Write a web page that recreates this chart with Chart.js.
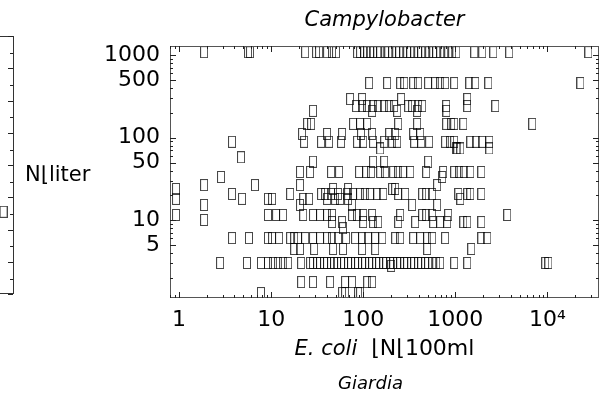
<!DOCTYPE html>
<html><head><meta charset="utf-8">
<script src="https://cdn.jsdelivr.net/npm/chart.js@4"></script>
<style>
html,body{margin:0;padding:0;background:#fff;overflow:hidden}
#wrap{position:relative;width:610px;height:393px;overflow:hidden;background:#fff}
#main{position:absolute;left:0;top:0}
#side{position:absolute;left:-200px;top:0}
</style>
</head><body>
<div id="wrap"><canvas id="side" width="220" height="393"></canvas><canvas id="main" width="610" height="393"></canvas></div>
<script>
// ---- data: Campylobacter (N/liter) levels and E. coli (N/100ml) values at each level ----
const campyLevels = [1090, 460, 294, 242, 211, 147, 111, 89, 74, 58, 51, 38.4, 33.4, 26.7, 23.9, 20.8, 18.1, 15.3, 11.56, 10.06, 9.5, 8.0, 6.08, 4.48, 3.03, 2.79, 1.78, 1.31];
const ecoli1090 = [1.87, 5.61, 5.9, 23.4, 30.8, 33.2, 40.5, 45.9, 50.7, 85.8, 92.4, 102.5, 110.5, 119, 128, 142, 153, 173, 187, 206, 228, 246, 272, 300, 324, 358, 395, 426, 471, 520, 575, 620, 685, 757, 837, 924, 1025, 1607, 1963, 2585, 3855, 27850];
const ecoli460 = [116, 182, 252, 279, 349, 395, 507, 604, 685, 776, 972, 1419, 1648, 2281, 22810];
const ecoli294 = [72, 97.2, 258, 1349];
const ecoli242 = [83.7, 97.2, 110.5, 128, 145.5, 169, 191.5, 217, 308, 340, 395, 437, 796, 1349, 2718];
const ecoli211 = [28.5, 125, 234, 385, 800];
const ecoli147 = [24.6, 27.2, 77.6, 92.4, 110.5, 240, 385, 796, 902, 972, 1221, 6849];
const ecoli111 = [21.7, 40.5, 59, 94.8, 125, 191.5, 222.5, 349, 415.5];
const ecoli89 = [3.76, 22.8, 34.9, 42.6, 57.5, 85.8, 100, 128, 169, 206, 234, 358, 426, 520, 776, 879, 972, 1455, 1690, 1963, 2339];
const ecoli74 = [153, 1025, 1050, 1133, 2339];
const ecoli58 = [4.71];
const ecoli51 = [28.5, 128, 169, 507];
const ecoli38 = [20.6, 26.5, 44.8, 54.7, 90.2, 107.8, 122, 153, 173, 211.6, 240, 272, 324, 483, 738, 972, 1105, 1252, 1455, 1915];
const ecoli33 = [2.86, 720];
const ecoli27 = [1.87, 6.68, 20.6, 635];
const ecoli24 = [0.928, 47.1, 68.5, 206, 222.5];
const ecoli21 = [3.76, 16.1, 34.9, 38.6, 44.8, 53.3, 66.8, 77.6, 92.4, 105, 119, 142, 165, 240, 285.5, 437, 483, 561, 1078, 1349, 1455, 1915];
const ecoli18 = [0.928, 4.83, 9.24, 10.25, 22.3, 25.85, 40.5, 49.5, 56.1, 68.5, 1133];
const ecoli15 = [1.87, 20.6, 75.7, 340, 635];
const ecoli11 = [0.928, 9.24, 11.33, 13.49, 22.3, 28.5, 34.0, 40.5, 45.9, 75.7, 85.8, 100, 125, 252, 437, 483, 561, 837, 3667];
const ecoli10 = [1.87];
const ecoli9 = [45.9, 59, 100, 128, 145.5, 240, 367, 575, 685, 816, 1221, 1349, 1915];
const ecoli8 = [60.4];
const ecoli6 = [3.76, 5.75, 9.24, 10.25, 12.2, 16.1, 17.8, 19.6, 23.4, 28.5, 34.0, 40.5, 45.9, 53.3, 65.2, 81.6, 97.2, 113, 135, 161, 222.5, 252, 349, 415.5, 495, 561, 776, 1915, 2225];
const ecoli4 = [17.8, 20.6, 29.3, 47.1, 60.4, 97.2, 135, 495, 1491];
const ecoli3 = [2.79, 5.47, 7.76, 9.24, 10.5, 11.9, 13.5, 15.3, 21.2, 26.5, 28.5, 31.6, 34.0, 37.6, 40.5, 44.8, 48.3, 52.0, 57.5, 62.0, 68.5, 73.8, 81.6, 87.9, 97.2, 105, 116, 125, 138.4, 149, 165, 177.6, 196.3, 211.6, 234, 252, 279, 300, 332, 358, 395, 426, 471, 507, 561, 620, 685, 972, 1349, 9478, 10250];
const ecoli2_8 = [201];
const ecoli1_8 = [21.2, 28.5, 43.7, 63.5, 75.7, 110.5, 125];
const ecoli1_3 = [7.76, 59, 63.5, 87.9, 92.4];
const ecoliByLevel = [ecoli1090, ecoli460, ecoli294, ecoli242, ecoli211, ecoli147, ecoli111, ecoli89, ecoli74, ecoli58, ecoli51, ecoli38, ecoli33, ecoli27, ecoli24, ecoli21, ecoli18, ecoli15, ecoli11, ecoli10, ecoli9, ecoli8, ecoli6, ecoli4, ecoli3, ecoli2_8, ecoli1_8, ecoli1_3];

const xTickValues = [1, 10, 100, 1000, 10000];
const xTickLabels = ['1', '10', '100', '1000', '10\u2074'];
const yTickValues = [5, 10, 50, 100, 500, 1000];
const yTickLabels = ['5', '10', '50', '100', '500', '1000'];

// neighbouring panel (only its right edge is visible)
const sideX = [0.95];
const sideY = [355];

const FONT = '"DejaVu Sans", Verdana, sans-serif';

// ---- marker: hollow rectangle like the reference glyph ----
function makeMarker(){
  const c = document.createElement('canvas');
  c.width = 8; c.height = 12;
  const g = c.getContext('2d');
  g.strokeStyle = 'rgba(0,0,0,0.72)';
  g.lineWidth = 1;
  g.strokeRect(0.5, 0.5, 7, 11);
  return c;
}
const marker = makeMarker();

const points = [];
campyLevels.forEach((lv, i) => ecoliByLevel[i].forEach(v => points.push({x: v, y: lv})));

function drawLogTicks(ctx, scale, a, horizontal, majorSet){
  const lo = Math.floor(Math.log10(scale.min)), hi = Math.ceil(Math.log10(scale.max));
  ctx.beginPath();
  for (let k = lo; k <= hi; k++) {
    for (let m = 1; m <= 9; m++) {
      const v = m * Math.pow(10, k);
      if (v < scale.min || v > scale.max) continue;
      const p = Math.round(scale.getPixelForValue(v)) + 0.5;
      const L = majorSet(m) ? 6 : 3;
      if (horizontal) {
        ctx.moveTo(p, a.bottom); ctx.lineTo(p, a.bottom - L);
        ctx.moveTo(p, a.top); ctx.lineTo(p, a.top + L);
      } else {
        ctx.moveTo(a.left, p); ctx.lineTo(a.left + L, p);
        ctx.moveTo(a.right, p); ctx.lineTo(a.right - L, p);
      }
    }
  }
  ctx.stroke();
}

const framePlugin = {
  id: 'frameTicks',
  afterDatasetsDraw(chart){
    const {ctx, chartArea: a, scales} = chart;
    ctx.save();
    ctx.strokeStyle = '#555';
    ctx.lineWidth = 1;
    ctx.strokeRect(Math.round(a.left) + 0.5, Math.round(a.top) + 0.5, Math.round(a.right - a.left) - 1, Math.round(a.bottom - a.top) - 1);
    ctx.strokeStyle = '#222';
    drawLogTicks(ctx, scales.x, a, true, m => m === 1);
    drawLogTicks(ctx, scales.y, a, false, m => m === 1 || m === 5);
    ctx.restore();
  },
  afterDraw(chart){
    const {ctx, chartArea: a} = chart;
    const cx = (a.left + a.right) / 2;
    ctx.save();
    ctx.fillStyle = '#000';
    ctx.textBaseline = 'alphabetic';
    // panel title
    ctx.font = 'italic 21px ' + FONT;
    ctx.textAlign = 'center';
    ctx.fillText('Campylobacter', cx, 26);
    // x axis title (mixed italic/regular)
    const t1 = 'E. coli', t2 = '  \u230AN\u230A100ml';
    ctx.font = 'italic 21px ' + FONT;
    const w1 = ctx.measureText(t1).width;
    ctx.font = '22px ' + FONT;
    const w2 = ctx.measureText(t2).width;
    let sx = cx - (w1 + w2) / 2;
    ctx.textAlign = 'left';
    ctx.font = 'italic 21px ' + FONT;
    ctx.fillText(t1, sx, 355);
    ctx.font = '22px ' + FONT;
    ctx.fillText(t2, sx + w1, 355);
    // y axis label (horizontal)
    ctx.font = '21px ' + FONT;
    ctx.fillText('N\u230Aliter', 25, 181);
    // title of the panel below
    ctx.font = 'italic 18px ' + FONT;
    ctx.textAlign = 'center';
    ctx.fillText('Giardia', cx - 14, 389);
    ctx.restore();
  }
};

new Chart(document.getElementById('main'), {
  type: 'scatter',
  data: {datasets: [{data: points, pointStyle: marker, pointRadius: 5, showLine: false}]},
  options: {
    responsive: false, animation: false, devicePixelRatio: 1,
    layout: {padding: {left: 0, right: 11, top: 46, bottom: 0}},
    plugins: {legend: {display: false}, tooltip: {enabled: false}, title: {display: false}},
    scales: {
      x: {
        type: 'logarithmic', position: 'bottom', min: 0.798, max: 36300,
        grid: {display: false, drawTicks: false}, border: {display: false},
        afterFit(s){ s.height = 95; },
        afterBuildTicks(s){ s.ticks = xTickValues.map(v => ({value: v})); },
        ticks: {autoSkip: false, maxRotation: 0, padding: 9, color: '#000',
          font: {family: FONT, size: 22},
          callback: (v, i) => xTickLabels[i]}
      },
      y: {
        type: 'logarithmic', position: 'left', min: 1.14, max: 1292,
        grid: {display: false, drawTicks: false}, border: {display: false},
        afterFit(s){ s.width = 170; },
        afterBuildTicks(s){ s.ticks = yTickValues.map(v => ({value: v})); },
        ticks: {autoSkip: false, padding: 10, color: '#000',
          font: {family: FONT, size: 22},
          callback: (v, i) => yTickLabels[i]}
      }
    }
  },
  plugins: [framePlugin]
});

// neighbouring panel on the left, mostly outside the picture
const sidePlugin = {
  id: 'sideFrame',
  afterDatasetsDraw(chart){
    const {ctx, chartArea: a, scales} = chart;
    ctx.save();
    ctx.strokeStyle = '#333';
    ctx.lineWidth = 1;
    ctx.strokeRect(Math.round(a.left) + 0.5, Math.round(a.top) + 0.5, Math.round(a.right - a.left) - 1, Math.round(a.bottom - a.top) - 1);
    ctx.strokeStyle = '#222';
    const y = scales.y;
    ctx.beginPath();
    for (let k = 0; k <= 8; k++) {
      for (const m of [1, 3]) {
        const v = m * Math.pow(10, k);
        if (v < y.min || v > y.max) continue;
        const p = Math.round(y.getPixelForValue(v)) + 0.5;
        const L = m === 1 ? 5 : 3;
        ctx.moveTo(a.right - 1, p); ctx.lineTo(a.right - 1 - L, p);
      }
    }
    ctx.stroke();
    ctx.restore();
  }
};
new Chart(document.getElementById('side'), {
  type: 'scatter',
  data: {datasets: [{data: sideX.map((v, i) => ({x: v, y: sideY[i]})), pointStyle: marker, pointRadius: 5}]},
  options: {
    responsive: false, animation: false, devicePixelRatio: 1,
    layout: {padding: {left: 0, right: 1, top: 36, bottom: 99}},
    plugins: {legend: {display: false}, tooltip: {enabled: false}},
    scales: {
      x: {type: 'linear', min: 0, max: 1, display: false},
      y: {type: 'logarithmic', min: 1, max: 1e8, display: false}
    }
  },
  plugins: [sidePlugin]
});
</script>
</body></html>
